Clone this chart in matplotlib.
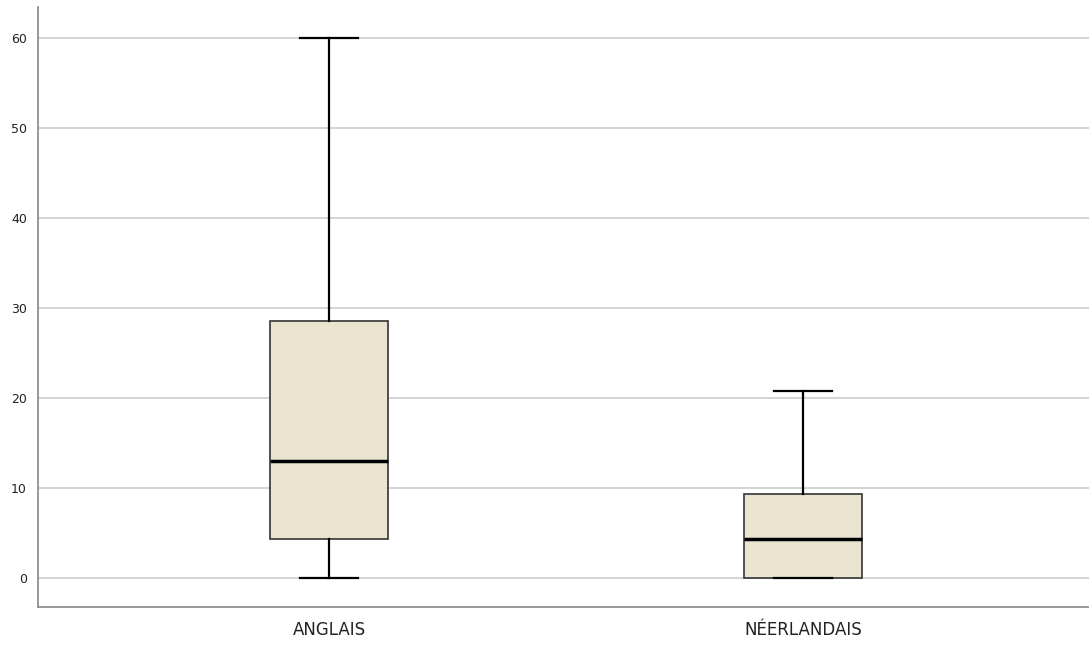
import matplotlib.pyplot as plt

groups = ["ANGLAIS", "NÉERLANDAIS"]
whislo = [0.0, 0.0]
q1 = [4.33, 0.0]
med = [13.0, 4.33]
q3 = [28.6, 9.33]
whishi = [60.0, 20.8]
yticks = [0, 10, 20, 30, 40, 50, 60]

stats = []
for i in range(len(groups)):
    stats.append({
        "label": groups[i],
        "whislo": whislo[i], "q1": q1[i], "med": med[i],
        "q3": q3[i], "whishi": whishi[i], "fliers": [],
    })

fig = plt.figure(figsize=(10.89, 6.48), dpi=100)
ax = fig.add_axes([38 / 1089, 41 / 648, 1 - 38 / 1089, 600 / 648])

ax.set_axisbelow(True)
ax.yaxis.grid(True, color="#d4d4d4", linewidth=1.4)

ax.bxp(stats, positions=[1, 2], widths=0.249, capwidths=0.122, patch_artist=True,
       boxprops=dict(facecolor="#eae4d0", edgecolor="#333333", linewidth=1.2),
       medianprops=dict(color="black", linewidth=2.5),
       whiskerprops=dict(color="black", linewidth=1.6),
       capprops=dict(color="black", linewidth=1.6))

ax.set_xlim(1 - 291 / 474, 2 + 286 / 474)
ax.set_ylim(-29 / 9, 571 / 9)
ax.set_yticks(yticks)
ax.tick_params(axis="y", length=0, labelsize=9, pad=8, labelcolor="#222222")
ax.tick_params(axis="x", length=0, labelsize=12, pad=10, labelcolor="#222222")

for s in ["top", "right"]:
    ax.spines[s].set_visible(False)
for s in ["left", "bottom"]:
    ax.spines[s].set_color("#888888")
    ax.spines[s].set_linewidth(1.2)

plt.savefig("out.png", dpi=100)
